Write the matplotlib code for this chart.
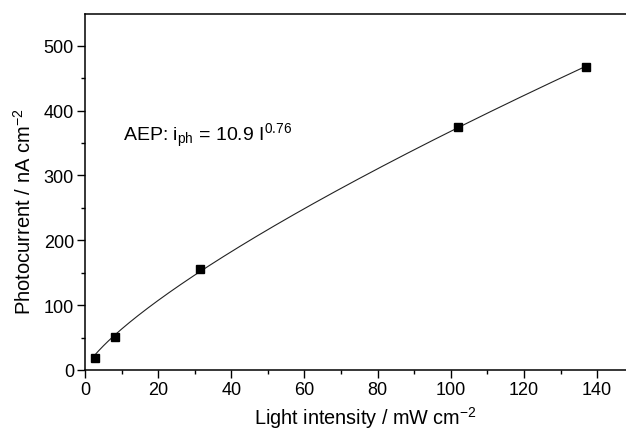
import matplotlib

matplotlib.use("Agg")
import matplotlib.pyplot as plt
import numpy as np
from matplotlib.ticker import MultipleLocator

plt.rcParams["font.family"] = ["Liberation Sans", "DejaVu Sans"]
plt.rcParams["mathtext.fontset"] = "custom"
plt.rcParams["mathtext.rm"] = "Liberation Sans"
plt.rcParams["mathtext.it"] = "Liberation Sans"

# measured points (light intensity in mW cm-2, photocurrent in nA cm-2)
intensity = [2.8, 8.2, 31.5, 102.0, 137.0]
photocurrent = [18, 51, 156, 375, 467]
fit_label = r"AEP: $\mathregular{i_{ph}}$ = 10.9 $\mathregular{I^{0.76}}$"

x = np.asarray(intensity)
y = np.asarray(photocurrent, dtype=float)

# least squares power law y = a*x^b (grid over b, closed form for a)
best = None
for b in np.linspace(0.5, 1.0, 501):
    xb = x ** b
    a = (y * xb).sum() / (xb * xb).sum()
    err = ((a * xb - y) ** 2).sum()
    if best is None or err < best[0]:
        best = (err, a, b)
_, fit_a, fit_b = best

fig = plt.figure(figsize=(6.26, 4.31), dpi=100)
ax = fig.add_axes([85 / 626, 60 / 431, 1 - 85 / 626, 356 / 431])

xs = np.linspace(x.min(), x.max(), 300)
ax.plot(xs, fit_a * xs ** fit_b, color="#222222", lw=0.8, zorder=2)
ax.plot(x, y, ls="none", marker="s", ms=5.5, color="black", zorder=3)

ax.set_xlim(0, 147.9)
ax.set_ylim(0, 549)
ax.xaxis.set_major_locator(MultipleLocator(20))
ax.xaxis.set_minor_locator(MultipleLocator(10))
ax.yaxis.set_major_locator(MultipleLocator(100))
ax.yaxis.set_minor_locator(MultipleLocator(50))

ax.spines["right"].set_visible(False)
for side in ("left", "bottom", "top"):
    ax.spines[side].set_linewidth(1.1)
ax.tick_params(which="major", direction="out", length=6, width=1.0,
               labelsize=13, pad=2, top=False, right=False)
ax.tick_params(which="minor", direction="out", length=3, width=1.0,
               top=False, right=False)

ax.set_xlabel(r"Light intensity / mW cm$^{\mathregular{-2}}$", fontsize=14.3)
ax.set_ylabel(r"Photocurrent / nA cm$^{\mathregular{-2}}$", fontsize=14.5)
ax.xaxis.set_label_coords(0.518, -0.097)
ax.yaxis.set_label_coords(-0.092, 0.447)

ax.text(10.3, 354, fit_label, fontsize=14, va="baseline", ha="left")

fig.savefig("out.png", dpi=100)
